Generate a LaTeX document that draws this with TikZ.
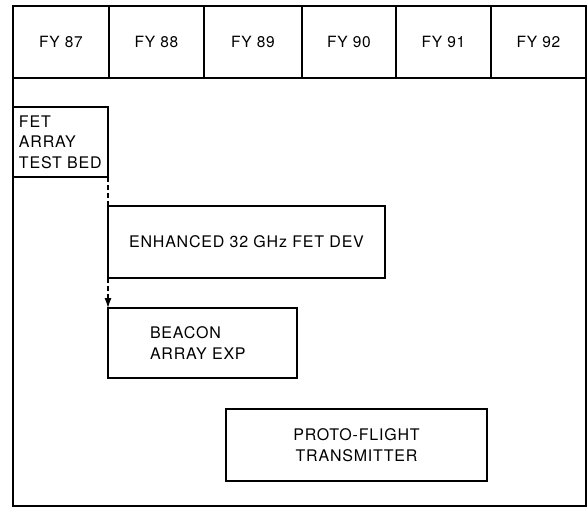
\documentclass[tikz,border=0pt]{standalone}
\usepackage{fontspec}
\setmainfont[LetterSpace=5]{TeX Gyre Heros}
\usetikzlibrary{arrows.meta}
\begin{document}
\begin{tikzpicture}[x=1pt,y=-1pt,line width=1.5pt,
  cell/.style={draw, minimum height=72pt, inner sep=0pt, outer sep=0pt, font=\fontsize{15.5}{19}\selectfont},
  task/.style={draw, inner sep=0pt, outer sep=0pt, font=\fontsize{16}{20.5}\selectfont},
  link/.style={dashed, dash pattern=on 5pt off 3pt, line width=1.1pt}]
\useasboundingbox (0,0) rectangle (587,508);
\draw (13,6) rectangle (586,506);
\node[cell, minimum width=96pt] (fy87) at (61,42) {FY 87};
\node[cell, minimum width=95pt] (fy88) at (156.5,42) {FY 88};
\node[cell, minimum width=98pt] (fy89) at (253,42) {FY 89};
\node[cell, minimum width=94pt] (fy90) at (349,42) {FY 90};
\node[cell, minimum width=95pt] (fy91) at (443.5,42) {FY 91};
\node[cell, minimum width=95pt] (fy92) at (538.5,42) {FY 92};
\node[task, minimum width=95pt, minimum height=70pt, text width=83pt, align=left] (fet) at (60.5,142) {FET\\ARRAY\\TEST BED};
\node[task, minimum width=277pt, minimum height=72pt] (enh) at (246.5,242) {ENHANCED 32 GHz FET DEV};
\node[task, minimum width=189pt, minimum height=70pt, text width=105pt, align=left] (beacon) at (202.5,343) {BEACON\\ARRAY EXP};
\node[task, minimum width=261pt, minimum height=72pt, align=center] (proto) at (356.5,445) {PROTO-FLIGHT\\TRANSMITTER};
\draw[link] (fet.south east) -- (enh.north west);
\draw[link, -{Latex[length=10pt,width=7pt]}] (enh.south west) -- (beacon.north west);
\end{tikzpicture}
\end{document}
